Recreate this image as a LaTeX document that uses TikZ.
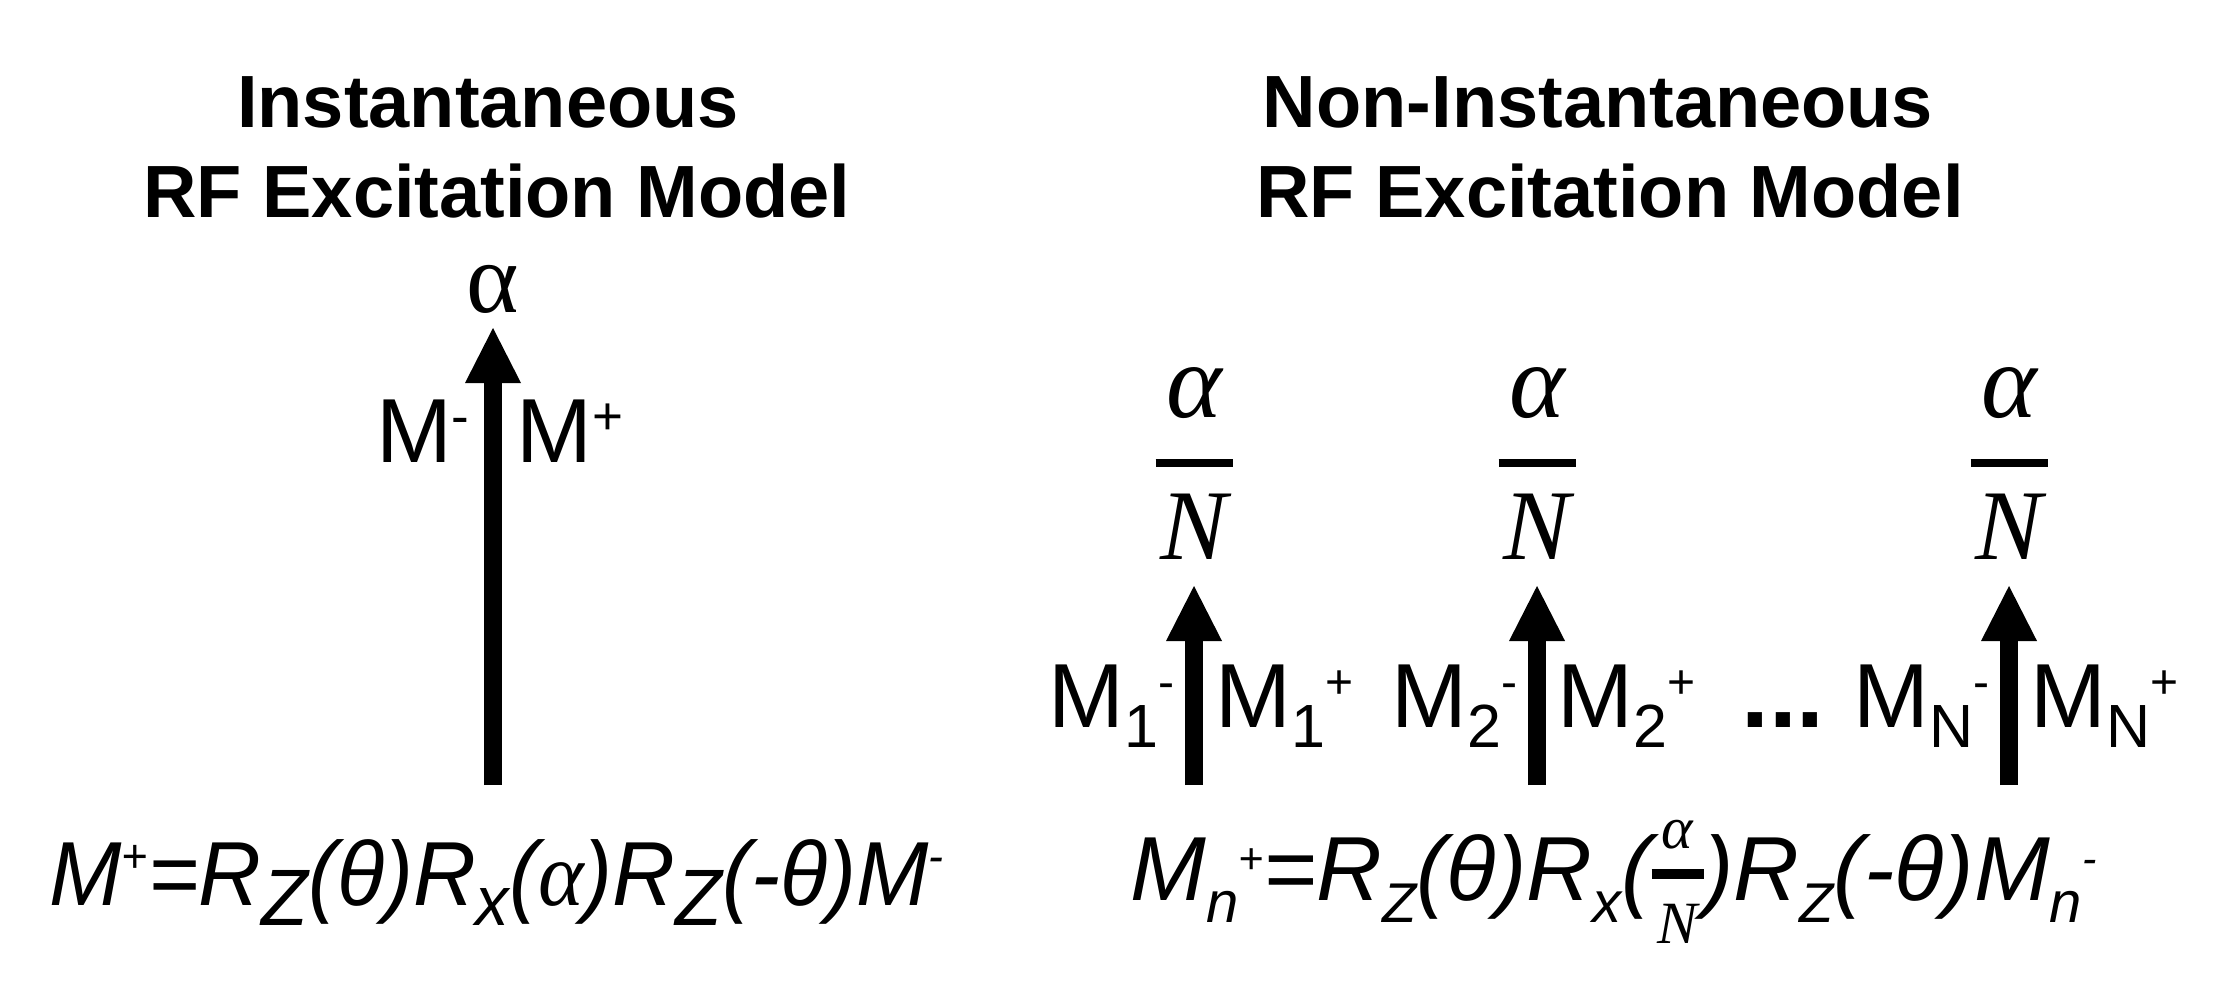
\documentclass[tikz,border=0pt]{standalone}
\usepackage{fontspec}
\setmainfont{Liberation Sans}
\newfontfamily\greekserif{Liberation Serif}
\usepackage{tikz}
\usetikzlibrary{arrows.meta,positioning}
\newcommand\upidx[3]{\raisebox{#1}{\fontsize{#2}{#2}\selectfont #3}}
\newcommand\dnidx[3]{\raisebox{-#1}{\fontsize{#2}{#2}\selectfont #3}}
\newcommand\infrac[2]{\raisebox{-21.5pt}{\fontsize{30pt}{30pt}\selectfont\greekserif\itshape
  \vbox{\hbox to 26pt{\hss#1\hss}\kern10pt\hrule height 5pt\kern12.5pt\hbox to 26pt{\hss#2\hss}}}}
\tikzset{
  titletext/.style={font=\fontsize{37pt}{37pt}\selectfont\bfseries, inner sep=0pt, anchor=base},
  lbl/.style={font=\fontsize{45.5pt}{45.5pt}\selectfont, inner sep=0pt},
  greeklbl/.style={font=\fontsize{50pt}{50pt}\selectfont\greekserif, inner sep=0pt, anchor=base},
  fracnum/.style={font=\fontsize{53pt}{53pt}\selectfont\greekserif\itshape, inner sep=0pt, anchor=base},
  fracden/.style={font=\fontsize{50pt}{50pt}\selectfont\greekserif\itshape, inner sep=0pt, anchor=base},
  fracbar/.style={inner sep=0pt},
  eqn/.style={font=\fontsize{45.5pt}{45.5pt}\selectfont\itshape, inner sep=0pt, anchor=base west},
  bigarrow/.style={-{Triangle[length=27.5pt,width=28pt,line width=0pt]}, line width=9pt}
}
\begin{document}
\begin{tikzpicture}[x=0.5pt,y=-0.5pt]
\useasboundingbox (0,0) rectangle (2215,986);
% titles
\node[titletext] (ttlia) at (488,127) {Instantaneous};
\node[titletext] (ttlib) at (497,217) {RF Excitation Model};
\node[titletext] (ttlna) at (1598,127) {Non-Instantaneous};
\node[titletext] (ttlnb) at (1610,217) {RF Excitation Model};
% instantaneous pulse
\coordinate (base0) at (493,785);
\coordinate (tip0) at (493,328);
\draw[bigarrow] (base0) -- (tip0);
\node[greeklbl] (alpha0) at (493,312) {α};
\node[lbl, anchor=base east] (mm0) at (470,462) {M\upidx{14pt}{26.5pt}{-}};
\node[lbl, anchor=base west] (mp0) at (516,462) {M\upidx{14pt}{26.5pt}{+}};
\node[eqn] (eqi) at (49,905) {\scalebox{0.955}[1]{M\upidx{16.5pt}{23.5pt}{+}=R\dnidx{10pt}{40pt}{Z}(θ)R\dnidx{10pt}{35pt}{x}({\greekserif α})R\dnidx{10pt}{40pt}{Z}(-θ)M\upidx{16.5pt}{23.5pt}{-}}};
% sub-pulses
\coordinate (base1) at (1194,785);
\coordinate (tip1) at (1194,586);
\coordinate (base2) at (1537,785);
\coordinate (tip2) at (1537,586);
\coordinate (base3) at (2009,785);
\coordinate (tip3) at (2009,586);
\draw[bigarrow] (base1) -- (tip1);
\draw[bigarrow] (base2) -- (tip2);
\draw[bigarrow] (base3) -- (tip3);
\node[fracnum] (num1) at (1194,417) {α};
\node[fracbar] (bar1) at (1194,463) {\rule{38.5pt}{4pt}};
\node[fracden] (den1) at (1194,559) {N};
\node[fracnum] (num2) at (1537,417) {α};
\node[fracbar] (bar2) at (1537,463) {\rule{38.5pt}{4pt}};
\node[fracden] (den2) at (1537,559) {N};
\node[fracnum] (num3) at (2009,417) {α};
\node[fracbar] (bar3) at (2009,463) {\rule{38.5pt}{4pt}};
\node[fracden] (den3) at (2009,559) {N};
\node[lbl, anchor=base east] (mm1) at (1175,727) {M\dnidx{10pt}{30.5pt}{1}\upidx{14.5pt}{24pt}{-}};
\node[lbl, anchor=base west] (mp1) at (1215,727) {M\dnidx{10pt}{30.5pt}{1}\upidx{14.5pt}{24pt}{+}};
\node[lbl, anchor=base east] (mm2) at (1518,727) {M\dnidx{10pt}{30.5pt}{2}\upidx{14.5pt}{24pt}{-}};
\node[lbl, anchor=base west] (mp2) at (1557,727) {M\dnidx{10pt}{30.5pt}{2}\upidx{14.5pt}{24pt}{+}};
\node[lbl, anchor=base] (dots) at (1783,727) {\fontsize{50pt}{50pt}\selectfont\bfseries ...};
\node[lbl, anchor=base east] (mmn) at (1990,727) {M\dnidx{10pt}{30.5pt}{N}\upidx{14.5pt}{24pt}{-}};
\node[lbl, anchor=base west] (mpn) at (2030,727) {M\dnidx{10pt}{30.5pt}{N}\upidx{14.5pt}{24pt}{+}};
\node[eqn] (eqn) at (1130,900) {M\dnidx{11pt}{29pt}{n}\upidx{13.5pt}{21.5pt}{+}=R\dnidx{11pt}{28pt}{Z}(θ)R\dnidx{11pt}{29pt}{x}(\infrac{α}{N})R\dnidx{11pt}{28pt}{Z}(-θ)M\dnidx{11pt}{29pt}{n}\upidx{13.5pt}{21.5pt}{-}};
\end{tikzpicture}
\end{document}
